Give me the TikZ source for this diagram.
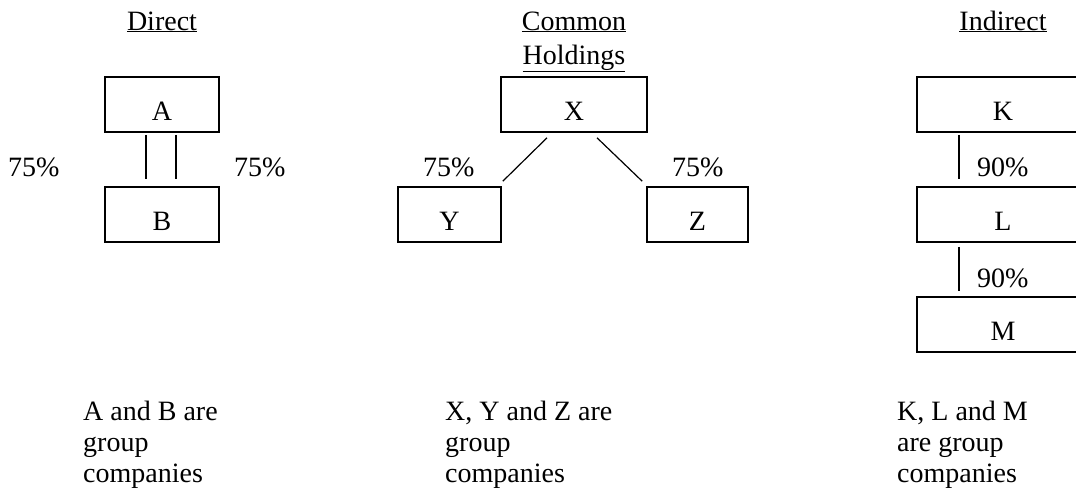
\documentclass[tikz,border=0pt]{standalone}
\usepackage{fontspec}
\setmainfont{Liberation Serif}
\begin{document}
\begin{tikzpicture}[x=1pt,y=-1pt,
        every node/.style={font=\fontsize{28}{31}\selectfont,inner sep=0pt},
        firm/.style={draw,line width=1.6pt,text height=43pt,text depth=12pt},
        link/.style={line width=1.2pt},
        pct/.style={anchor=base west},
        head/.style={anchor=base,align=center},
        note/.style={anchor=base west,align=left}]
        \useasboundingbox (0,0) rectangle (1076,496);
        \clip (0,0) rectangle (1076,496);

        \node[head] (direct) at (162,30) {\underline{Direct}};
        \node[head] (common) at (574,64) {\underline{Common}\\[3pt]\underline{Holdings}};
        \node[head] (indirect) at (1003,30) {\underline{Indirect}};

        \node[firm,minimum width=114pt] (A) at (162,104.5) {A};
        \node[firm,minimum width=114pt] (B) at (162,214.5) {B};
        \node[firm,minimum width=146pt] (X) at (574,104.5) {X};
        \node[firm,minimum width=103pt] (Y) at (449.5,214.5) {Y};
        \node[firm,minimum width=101pt] (Z) at (697.5,214.5) {Z};
        \node[firm,minimum width=172pt] (K) at (1003,104.5) {K};
        \node[firm,minimum width=172pt] (L) at (1003,214.5) {L};
        \node[firm,minimum width=172pt] (M) at (1003,324.5) {M};

        \draw[link,shorten <=2pt,shorten >=7pt] ([xshift=-16pt]A.south) -- ([xshift=-16pt]B.north);
        \draw[link,shorten <=2pt,shorten >=7pt] ([xshift=14pt]A.south) -- ([xshift=14pt]B.north);
        \draw[link] ([xshift=-27pt,yshift=-5pt]X.south) -- ([xshift=1pt,yshift=5pt]Y.north east);
        \draw[link] ([xshift=23pt,yshift=-5pt]X.south) -- ([xshift=-4pt,yshift=5pt]Z.north west);
        \draw[link,shorten <=2pt,shorten >=7pt] ([xshift=-44pt]K.south) -- ([xshift=-44pt]L.north);
        \draw[link,shorten <=4pt,shorten >=5pt] ([xshift=-44pt]L.south) -- ([xshift=-44pt]M.north);

        \node[pct] (ab1) at (8,176) {75\%};
        \node[pct] (ab2) at (234,176) {75\%};
        \node[pct] (xy) at (423,176) {75\%};
        \node[pct] (xz) at (672,176) {75\%};
        \node[pct] (kl) at (977,176) {90\%};
        \node[pct] (lm) at (977,287) {90\%};

        \node[note] (noteab) at (83,482) {A and B are\\group\\companies};
        \node[note] (notexyz) at (445,482) {X, Y and Z are\\group\\companies};
        \node[note] (noteklm) at (897,482) {K, L and M\\are group\\companies};
    \end{tikzpicture}
\end{document}
